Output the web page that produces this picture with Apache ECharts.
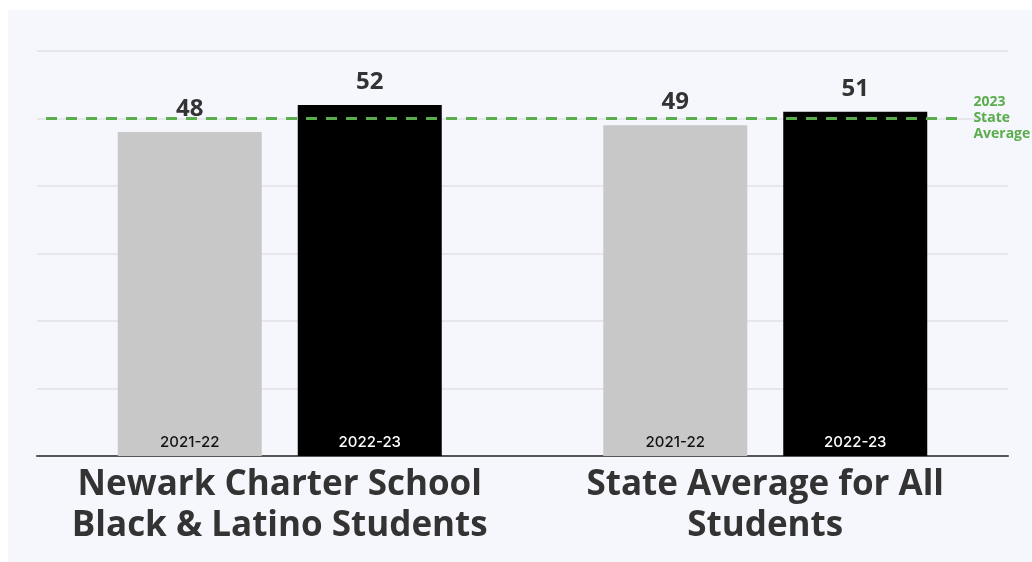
<!DOCTYPE html>
<html>
<head>
<meta charset="utf-8">
<script src="https://cdn.jsdelivr.net/npm/echarts@6/dist/echarts.min.js"></script>
<style>
html,body{margin:0;padding:0;background:#ffffff;width:1032px;height:562px;overflow:hidden;}
#panel{position:absolute;left:8px;top:10px;width:1024px;height:552px;background:#f6f7fd;}
#chart{position:absolute;left:0;top:0;width:1032px;height:562px;}
</style>
</head>
<body>
<div id="panel"></div>
<div id="chart"></div>
<script>
const categories = ['Newark Charter School\nBlack & Latino Students', 'State Average for All\nStudents'];
const seriesNames = ['2021-22', '2022-23'];
const values2122 = [48, 49];
const values2223 = [52, 51];
const stateAverage2023 = 50;
const refLineLabel = '2023\nState\nAverage';

const chart = echarts.init(document.getElementById('chart'), null, {renderer: 'canvas'});
const valueLabel = {
  show: true, position: 'top', distance: 11,
  fontFamily: 'Open Sans', fontWeight: 'bold', fontSize: 24, color: '#333333'
};
const innerLabel = (name, color) => ({
  show: true, position: 'insideBottom', distance: 6,
  formatter: name, fontFamily: 'Inter', fontWeight: 500, fontSize: 15, color: color
});
chart.setOption({
  animation: false,
  backgroundColor: 'transparent',
  grid: {left: 37, right: 24, top: 51, bottom: 106, containLabel: false},
  xAxis: [{
    type: 'category', data: categories,
    axisLine: {lineStyle: {color: '#555555', width: 2}},
    axisTick: {alignWithLabel: true, length: 10, lineStyle: {color: '#555555', width: 1.5}},
    axisLabel: {fontFamily: 'Open Sans', fontWeight: 'bold', fontSize: 35, color: '#333333', lineHeight: 41, margin: 9, interval: 0}
  }, {
    type: 'category', data: categories, show: false
  }, {
    type: 'value', min: 0, max: 1, show: false
  }],
  yAxis: {
    type: 'value', min: 0, max: 60, interval: 10,
    axisLabel: {show: false}, axisLine: {show: false}, axisTick: {show: false},
    splitLine: {lineStyle: {color: '#e6e6ec', width: 2}}
  },
  series: [{
    name: seriesNames[0], type: 'bar', data: values2122, barWidth: 144, barGap: '25%',
    itemStyle: {color: '#c8c8c8'},
    label: valueLabel
  }, {
    name: seriesNames[1], type: 'bar', data: values2223, barWidth: 144, barGap: '25%',
    itemStyle: {color: '#000000'},
    label: valueLabel
  }, {
    name: seriesNames[0] + ' label', type: 'bar', xAxisIndex: 1, data: values2122, barWidth: 144, barGap: '25%',
    itemStyle: {color: 'rgba(0,0,0,0)'}, label: innerLabel(seriesNames[0], '#111111'), silent: true, z: 3
  }, {
    name: seriesNames[1] + ' label', type: 'bar', xAxisIndex: 1, data: values2223, barWidth: 144, barGap: '25%',
    itemStyle: {color: 'rgba(0,0,0,0)'}, label: innerLabel(seriesNames[1], '#ffffff'), silent: true, z: 3
  }, {
    name: 'ref', type: 'line', xAxisIndex: 2, data: [[0, stateAverage2023], [0.952, stateAverage2023]],
    symbol: 'none', z: 5,
    lineStyle: {color: '#5aad4c', width: 3, type: [11, 9], dashOffset: 11},
    endLabel: {show: true, formatter: refLineLabel, distance: 12, fontFamily: 'Open Sans', fontWeight: 'bold', fontSize: 14, lineHeight: 16, color: '#5aad4c', align: 'left', padding: [0, 0, 4, 0]}
  }]
});
</script>
</body>
</html>
